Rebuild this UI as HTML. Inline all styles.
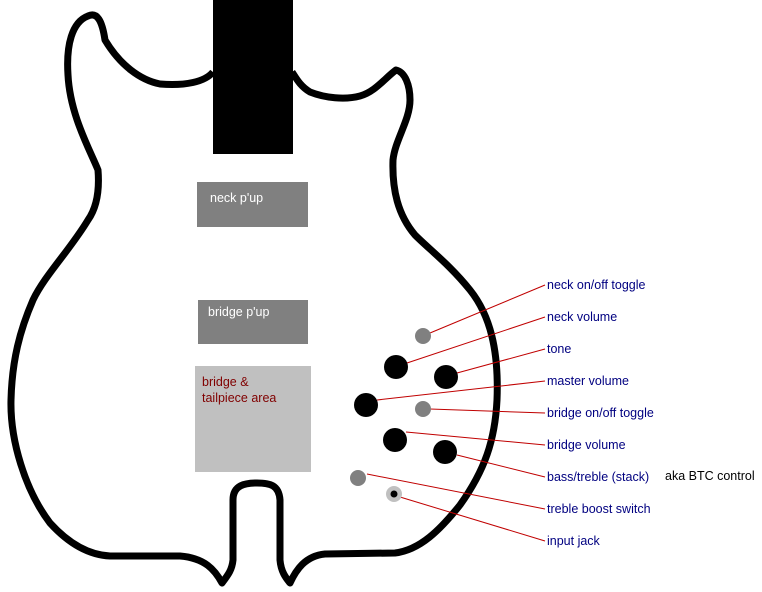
<!DOCTYPE html>
<html><head><style>
body{margin:0;background:#fff;}
svg{display:block}
text{font-family:"Liberation Sans",sans-serif;font-size:12.5px;}
</style></head><body>
<svg width="762" height="592" viewBox="0 0 762 592" xmlns="http://www.w3.org/2000/svg">
<rect width="762" height="592" fill="#fff"/>
<path d="M213,72 C205,82 185,86 160,84 C140,80 120,65 105,40 C102,20 97,12 88,16 C72,22 66,45 68,75 C70,115 90,150 98,170 C100,195 95,210 88,220 C70,250 45,275 33,300 C20,330 12,360 11,400 C10,440 25,490 50,523 C70,545 90,555 110,556 L180,556 C205,558 215,570 222,583 C228,575 232,570 233,560 L233,500 C233,485 245,483 257,483 C270,483 279,485 280,500 L280,560 C281,572 286,578 290,583 C296,570 305,556 325,554 L395,553 C420,550 440,530 460,505 C485,470 495,440 497,400 C499,350 490,315 470,290 C450,265 430,250 415,235 C398,215 392,190 393,160 C395,140 410,120 410,100 C410,85 405,72 396,70 C385,78 375,92 360,96 C345,100 325,98 310,92 C300,86 296,78 292,72"
 fill="none" stroke="#000" stroke-width="7" stroke-linejoin="round"/>
<rect x="213" y="0" width="80" height="154" fill="#000"/>
<rect x="197" y="182" width="111" height="45" fill="#808080"/>
<text x="210" y="202" fill="#fff">neck p'up</text>
<rect x="198" y="300" width="110" height="44" fill="#808080"/>
<text x="208" y="316" fill="#fff">bridge p'up</text>
<rect x="195" y="366" width="116" height="106" fill="#c0c0c0"/>
<text x="202" y="386" fill="#800000">bridge &amp;</text>
<text x="202" y="402" fill="#800000">tailpiece area</text>
<g stroke="#c00000" stroke-width="1">
<line x1="430" y1="333" x2="545" y2="285"/>
<line x1="407" y1="363" x2="545" y2="317"/>
<line x1="457" y1="373" x2="545" y2="349"/>
<line x1="377" y1="400" x2="545" y2="381"/>
<line x1="430" y1="409" x2="545" y2="413"/>
<line x1="406" y1="432" x2="545" y2="445"/>
<line x1="457" y1="455" x2="545" y2="477"/>
<line x1="367" y1="474" x2="545" y2="509"/>
<line x1="400" y1="497" x2="545" y2="541"/>
</g>
<g fill="#808080">
<circle cx="423" cy="336" r="8"/><circle cx="423" cy="409" r="8"/><circle cx="358" cy="478" r="8"/>
</g>
<g fill="#000">
<circle cx="396" cy="367" r="12"/><circle cx="446" cy="377" r="12"/><circle cx="366" cy="405" r="12"/>
<circle cx="395" cy="440" r="12"/><circle cx="445" cy="452" r="12"/>
</g>
<circle cx="394" cy="494" r="8" fill="#c0c0c0"/><circle cx="394" cy="494" r="3.5" fill="#000"/>
<g fill="#000080">
<text x="547" y="289">neck on/off toggle</text>
<text x="547" y="321">neck volume</text>
<text x="547" y="353">tone</text>
<text x="547" y="385">master volume</text>
<text x="547" y="417">bridge on/off toggle</text>
<text x="547" y="449">bridge volume</text>
<text x="547" y="481">bass/treble (stack)</text>
<text x="547" y="513">treble boost switch</text>
<text x="547" y="545">input jack</text>
</g>
<text x="665" y="480" fill="#000">aka BTC control</text>
</svg>
</body></html>
